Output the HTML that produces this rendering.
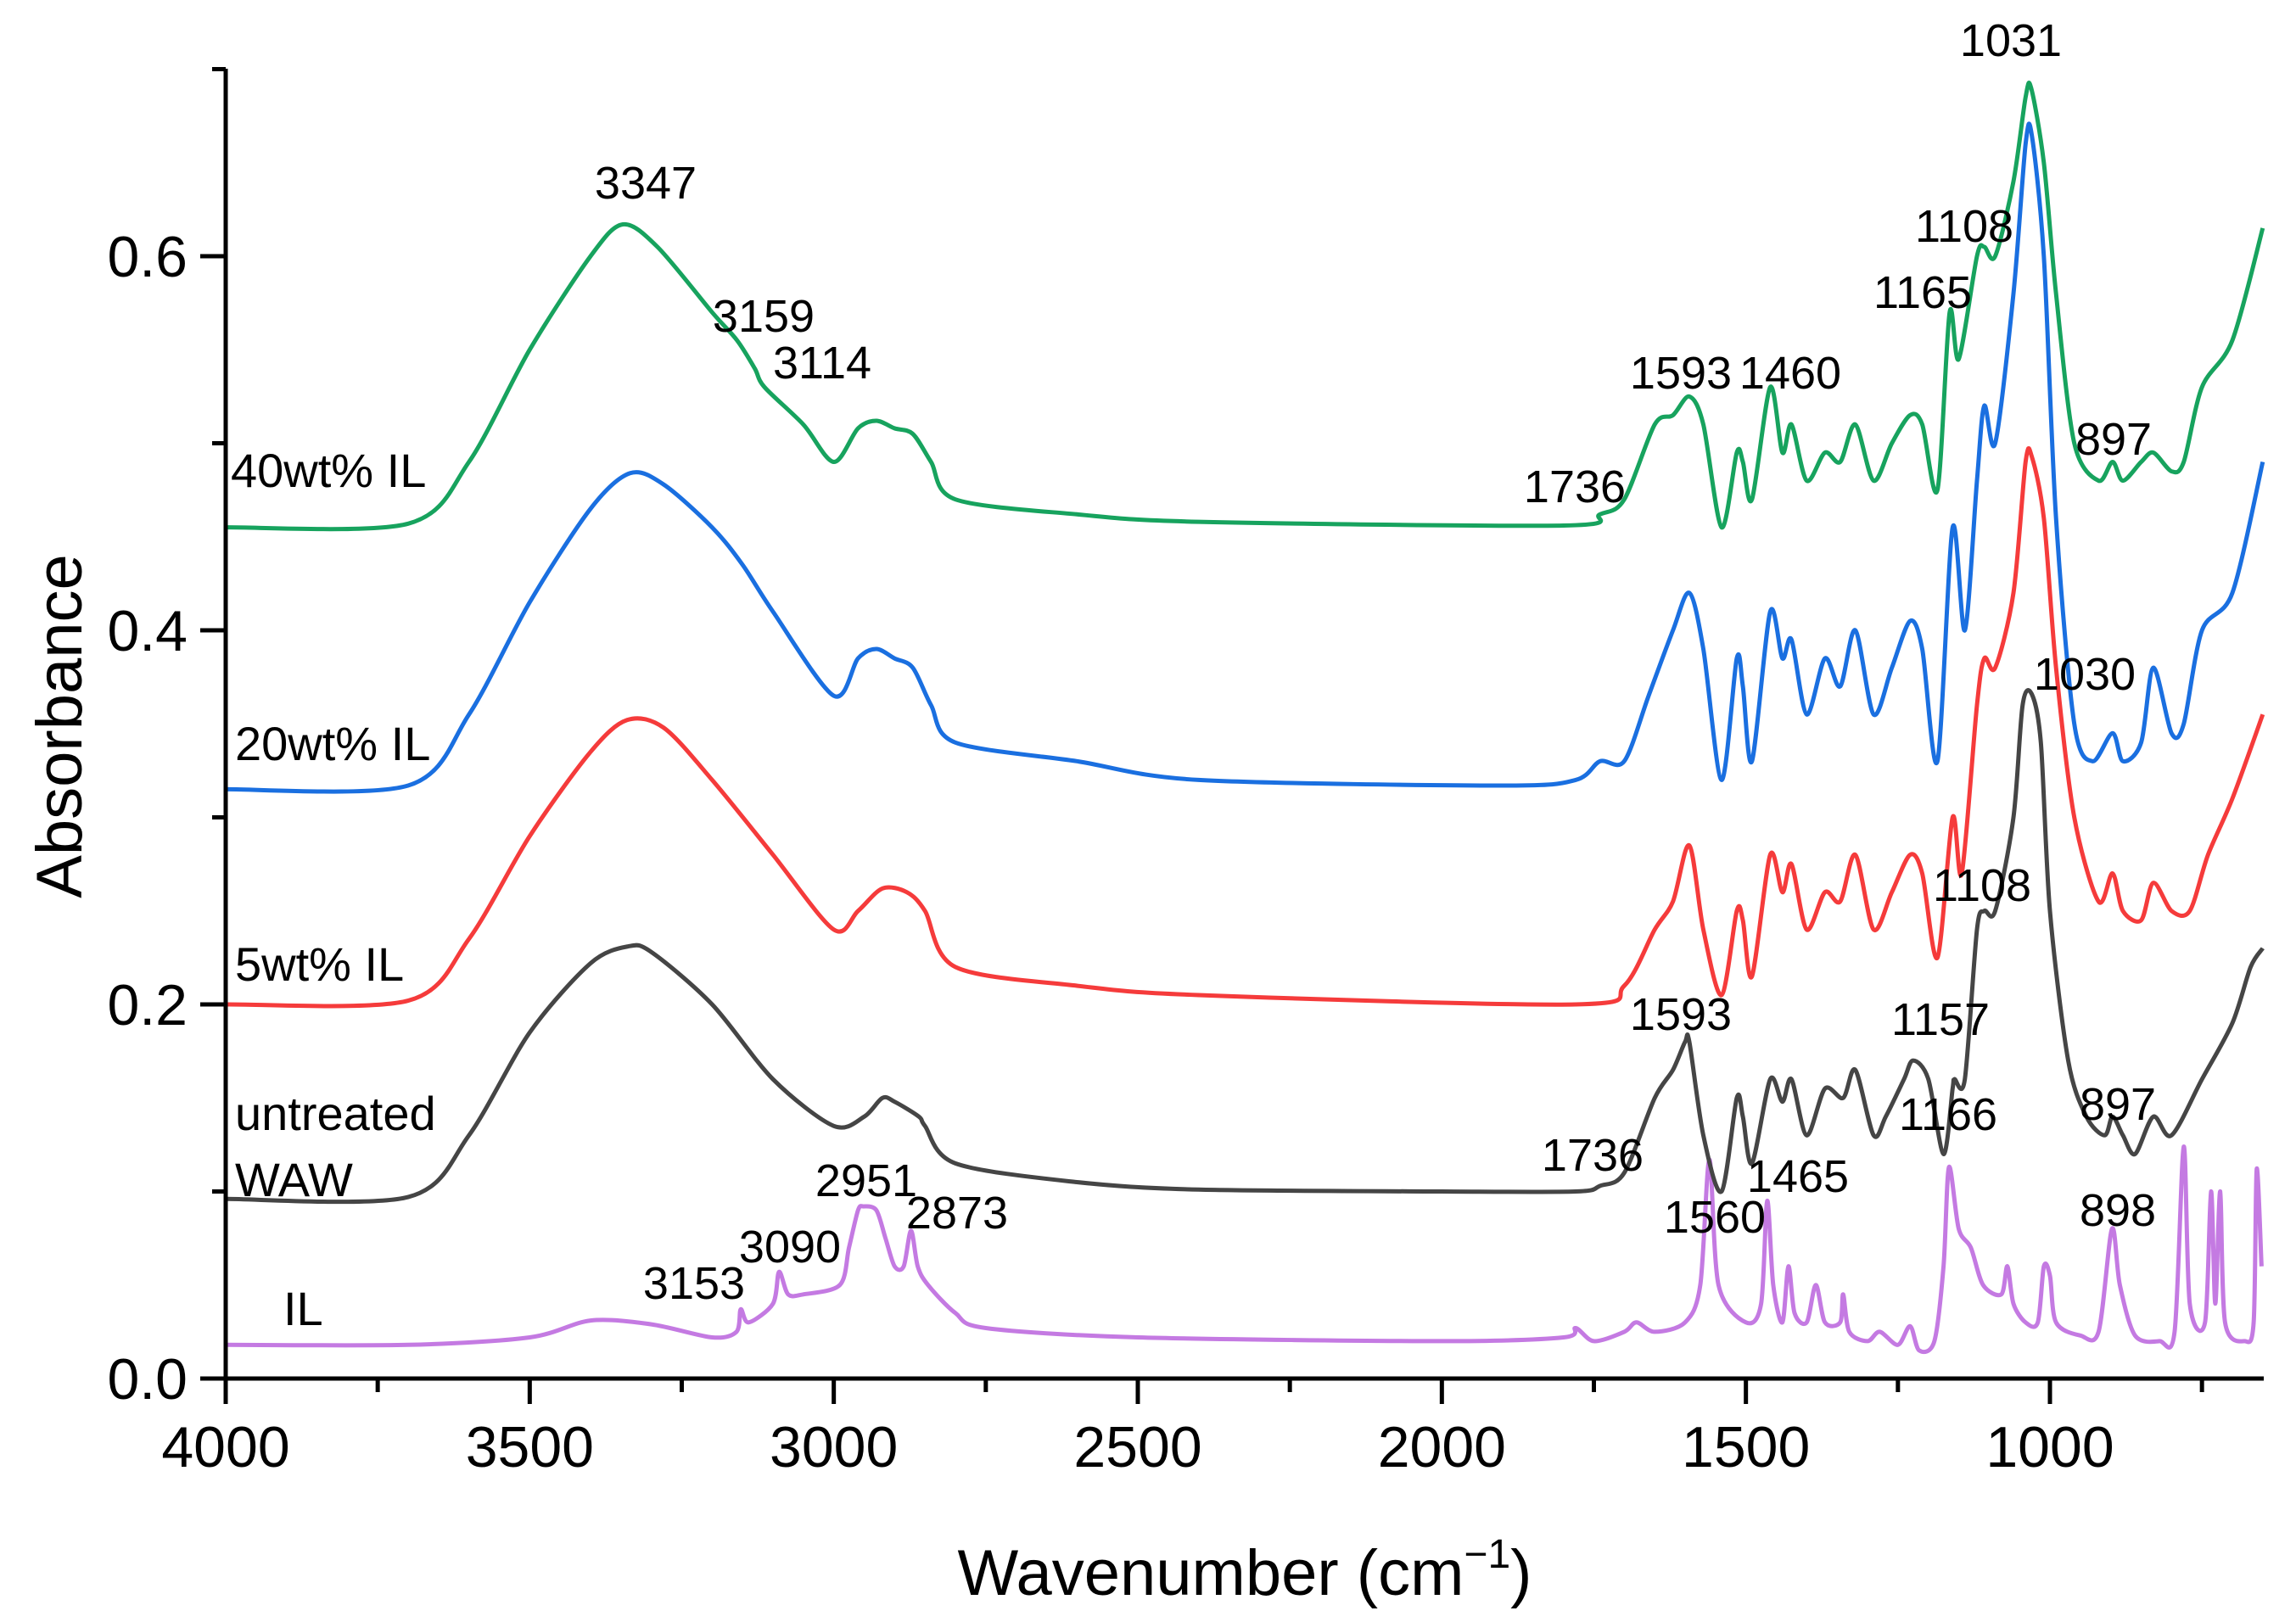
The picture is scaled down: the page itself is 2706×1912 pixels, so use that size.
<!DOCTYPE html>
<html><head><meta charset="utf-8"><style>
html,body{margin:0;padding:0;background:#fff}
svg{display:block;font-family:"Liberation Sans",Arial,sans-serif}
</style></head><body>
<svg id="chart" width="2706" height="1912" viewBox="0 0 2706 1912" xmlns="http://www.w3.org/2000/svg">
<rect width="2706" height="1912" fill="#fff"/>
<g id="series"></g>
<g id="axes"></g>
<g id="labels"></g>
</svg>
<script>
const xTicks=[4000,3500,3000,2500,2000,1500,1000];
const yTicks=[0.0,0.2,0.4,0.6];
const yTickLabels=["0.0","0.2","0.4","0.6"];
const ilWn=[4000,3700,3500,3400,3300,3200,3160,3153,3140,3100,3090,3075,3050,2990,2975,2960,2951,2930,2915,2900,2885,2873,2862,2845,2800,2750,2500,2000,1800,1780,1750,1700,1680,1650,1600,1575,1560,1545,1500,1475,1465,1455,1440,1430,1420,1400,1385,1370,1345,1340,1330,1300,1280,1250,1230,1215,1190,1175,1166,1150,1130,1110,1080,1070,1060,1040,1020,1010,1000,990,950,920,898,885,860,820,795,780,770,745,735,728,720,712,680,665,660,652];
const ilAbs=[0.018,0.018,0.022,0.031,0.029,0.022,0.025,0.037,0.03,0.04,0.057,0.045,0.045,0.05,0.07,0.09,0.092,0.09,0.075,0.06,0.06,0.079,0.06,0.05,0.035,0.027,0.022,0.02,0.022,0.027,0.02,0.025,0.03,0.025,0.03,0.05,0.117,0.05,0.03,0.04,0.095,0.05,0.03,0.06,0.035,0.03,0.05,0.03,0.03,0.045,0.025,0.02,0.025,0.018,0.028,0.015,0.02,0.06,0.113,0.08,0.07,0.05,0.045,0.06,0.04,0.03,0.03,0.06,0.055,0.03,0.023,0.025,0.08,0.05,0.023,0.02,0.025,0.124,0.04,0.03,0.1,0.04,0.1,0.03,0.02,0.03,0.112,0.06];
const wawWn=[4000,3700,3600,3500,3400,3338,3300,3200,3100,3000,2950,2920,2900,2860,2850,2800,2600,2400,2000,1780,1740,1700,1650,1620,1600,1593,1570,1540,1515,1505,1490,1460,1440,1425,1400,1370,1340,1320,1290,1270,1240,1225,1200,1175,1160,1157,1140,1120,1108,1090,1060,1045,1030,1015,1000,970,940,910,897,880,860,830,800,750,700,670,650];
const wawAbs=[0.096,0.097,0.13,0.185,0.222,0.231,0.228,0.2,0.16,0.135,0.14,0.15,0.148,0.14,0.135,0.115,0.105,0.101,0.1,0.1,0.103,0.11,0.15,0.165,0.18,0.18,0.13,0.1,0.15,0.14,0.115,0.16,0.148,0.16,0.13,0.155,0.15,0.165,0.13,0.14,0.16,0.17,0.16,0.12,0.155,0.16,0.16,0.24,0.25,0.25,0.3,0.36,0.366,0.34,0.25,0.17,0.14,0.13,0.14,0.13,0.12,0.14,0.13,0.16,0.19,0.22,0.23];
const r5Wn=[4000,3700,3600,3500,3400,3340,3280,3200,3100,3000,2960,2920,2880,2850,2800,2600,2400,1780,1700,1650,1620,1593,1570,1540,1515,1505,1490,1460,1440,1425,1400,1370,1345,1320,1290,1260,1230,1210,1185,1160,1145,1120,1108,1090,1060,1040,1030,1010,990,960,920,897,880,850,830,800,770,740,700,650];
const r5Abs=[0.2,0.202,0.235,0.29,0.335,0.352,0.348,0.32,0.28,0.24,0.25,0.262,0.26,0.25,0.22,0.21,0.205,0.2,0.21,0.24,0.255,0.285,0.24,0.205,0.25,0.245,0.215,0.28,0.26,0.275,0.24,0.26,0.255,0.28,0.24,0.26,0.28,0.27,0.225,0.3,0.27,0.36,0.385,0.38,0.42,0.49,0.493,0.46,0.38,0.3,0.255,0.27,0.25,0.245,0.265,0.25,0.25,0.28,0.31,0.355];
const b20Wn=[4000,3700,3600,3500,3400,3335,3280,3200,3150,3100,3000,2960,2930,2900,2870,2840,2800,2600,2400,1900,1780,1740,1700,1660,1620,1593,1570,1540,1515,1505,1490,1460,1440,1425,1400,1370,1345,1320,1290,1260,1230,1210,1185,1160,1140,1120,1108,1090,1060,1040,1030,1010,990,960,930,897,880,850,830,800,780,750,700,650];
const b20Abs=[0.315,0.317,0.355,0.415,0.465,0.484,0.478,0.455,0.435,0.41,0.365,0.385,0.39,0.385,0.38,0.36,0.34,0.33,0.32,0.317,0.32,0.33,0.33,0.365,0.4,0.42,0.39,0.32,0.385,0.37,0.33,0.41,0.385,0.395,0.355,0.385,0.37,0.4,0.355,0.38,0.405,0.39,0.33,0.455,0.4,0.48,0.52,0.5,0.58,0.66,0.665,0.6,0.46,0.35,0.33,0.345,0.33,0.34,0.38,0.345,0.35,0.4,0.42,0.49];
const g40Wn=[4000,3700,3600,3500,3400,3347,3290,3200,3159,3130,3114,3050,3000,2960,2930,2900,2870,2840,2800,2600,2400,1800,1740,1700,1650,1620,1593,1570,1540,1515,1505,1490,1460,1440,1425,1400,1370,1345,1320,1290,1260,1230,1210,1185,1165,1150,1120,1108,1090,1060,1040,1031,1010,990,960,920,897,880,850,830,800,780,750,700,650];
const g40Abs=[0.455,0.457,0.49,0.55,0.6,0.617,0.605,0.57,0.555,0.54,0.53,0.51,0.49,0.508,0.512,0.508,0.505,0.49,0.47,0.462,0.458,0.456,0.462,0.47,0.51,0.515,0.525,0.51,0.455,0.495,0.49,0.47,0.53,0.495,0.51,0.48,0.495,0.49,0.51,0.48,0.5,0.515,0.51,0.475,0.57,0.545,0.6,0.605,0.6,0.64,0.685,0.69,0.65,0.58,0.5,0.48,0.49,0.48,0.49,0.495,0.485,0.49,0.53,0.555,0.615];
const annText=["3347","3159","3114","1593","1460","1165","1108","1031","897","1736","1030","1108","1593","1157","1166","1736","1465","1560","897","898","2951","2873","3090","3153"];
const annX=[761,900,969,1981,2110,2266,2315,2370,2491,1856,2457,2336,1981,2287,2296,1877,2119,2021,2496,2496,1021,1128,931,818];
const annY=[234,391,446,458,458,363,285,66,536,592,813,1062,1214,1220,1332,1380,1405,1453,1320,1445,1410,1448,1488,1531];

const X0=266,X1=2668,WMAX=4000,WMIN=650,Y0=1625,YTOP=81;
const sx=w=>X0+(WMAX-w)*(2416-266)/3000;
const sy=a=>Y0-a*(Y0-302)/0.6;
const NS="http://www.w3.org/2000/svg";
function mk(tag,attrs,parent){const e=document.createElementNS(NS,tag);for(const k in attrs)e.setAttribute(k,attrs[k]);parent.appendChild(e);return e;}
const gS=document.getElementById('series'),gA=document.getElementById('axes'),gL=document.getElementById('labels');
function line(wn,ab,color,name){
  const P=wn.map((w,i)=>[sx(w),sy(ab[i])]);
  let d="M"+P[0][0].toFixed(1)+","+P[0][1].toFixed(1);
  const k=0.15;
  for(let i=0;i<P.length-1;i++){
    const p0=P[Math.max(0,i-1)],p1=P[i],p2=P[i+1],p3=P[Math.min(P.length-1,i+2)];
    const c1=[p1[0]+(p2[0]-p0[0])*k,p1[1]+(p2[1]-p0[1])*k];
    const c2=[p2[0]-(p3[0]-p1[0])*k,p2[1]-(p3[1]-p1[1])*k];
    d+=" C"+c1[0].toFixed(1)+","+c1[1].toFixed(1)+" "+c2[0].toFixed(1)+","+c2[1].toFixed(1)+" "+p2[0].toFixed(1)+","+p2[1].toFixed(1);
  }
  const p=mk('path',{d:d,fill:'none',stroke:color,'stroke-width':5,'stroke-linejoin':'round'},gS);
  
  
}
line(ilWn,ilAbs,'#c47ae2','il-spectrum');
line(wawWn,wawAbs,'#454545','untreated-waw-spectrum');
line(r5Wn,r5Abs,'#f53b3b','5wt-il-spectrum');
line(b20Wn,b20Abs,'#1a6fe0','20wt-il-spectrum');
line(g40Wn,g40Abs,'#17a35e','40wt-il-spectrum');

let e=mk('line',{x1:X0,y1:Y0,x2:X1,y2:Y0,stroke:'#000','stroke-width':5},gA);

e=mk('line',{x1:X0,y1:Y0+2,x2:X0,y2:YTOP,stroke:'#000','stroke-width':5},gA);

xTicks.forEach(t=>{
  const x=sx(t);
  let l=mk('line',{x1:x,y1:Y0,x2:x,y2:Y0+30,stroke:'#000','stroke-width':5},gA);
  
  let tx=mk('text',{x:x,y:Y0+104,'font-size':68,'text-anchor':'middle',fill:'#000'},gA);
  tx.textContent=t;
  
});
for(let t=3750;t>WMIN;t-=500){
  let l=mk('line',{x1:sx(t),y1:Y0,x2:sx(t),y2:Y0+16,stroke:'#000','stroke-width':5},gA);
  
}
yTicks.forEach((t,i)=>{
  const y=sy(t);
  let l=mk('line',{x1:X0,y1:y,x2:X0-30,y2:y,stroke:'#000','stroke-width':5},gA);
  
  let tx=mk('text',{x:X0-45,y:y+24,'font-size':68,'text-anchor':'end',fill:'#000'},gA);
  tx.textContent=yTickLabels[i];
  
});
[0.1,0.3,0.5,0.7].forEach(t=>{
  let l=mk('line',{x1:X0,y1:sy(t),x2:X0-16,y2:sy(t),stroke:'#000','stroke-width':5},gA);
  
});
let xt=mk('text',{x:1467,y:1880,'font-size':76,'text-anchor':'middle',fill:'#000'},gA);
xt.innerHTML='Wavenumber (cm<tspan dy="-32" font-size="48">−1</tspan><tspan dy="32">)</tspan>';

let yt=mk('text',{x:0,y:0,'font-size':76,'text-anchor':'middle',fill:'#000',transform:'translate(96,856) rotate(-90)'},gA);
yt.textContent='Absorbance';


annText.forEach((s,i)=>{
  let t=mk('text',{x:annX[i],y:annY[i],'font-size':54,'text-anchor':'middle',fill:'#000'},gL);
  t.textContent=s;
  
});
const sl=[["40wt% IL",272,574],["20wt% IL",277,896],["5wt% IL",277,1156],["untreated",277,1332],["WAW",277,1410],["IL",334,1562]];
sl.forEach(a=>{
  let t=mk('text',{x:a[1],y:a[2],'font-size':56,fill:'#000'},gL);
  t.textContent=a[0];
  
});
</script>
</body></html>
